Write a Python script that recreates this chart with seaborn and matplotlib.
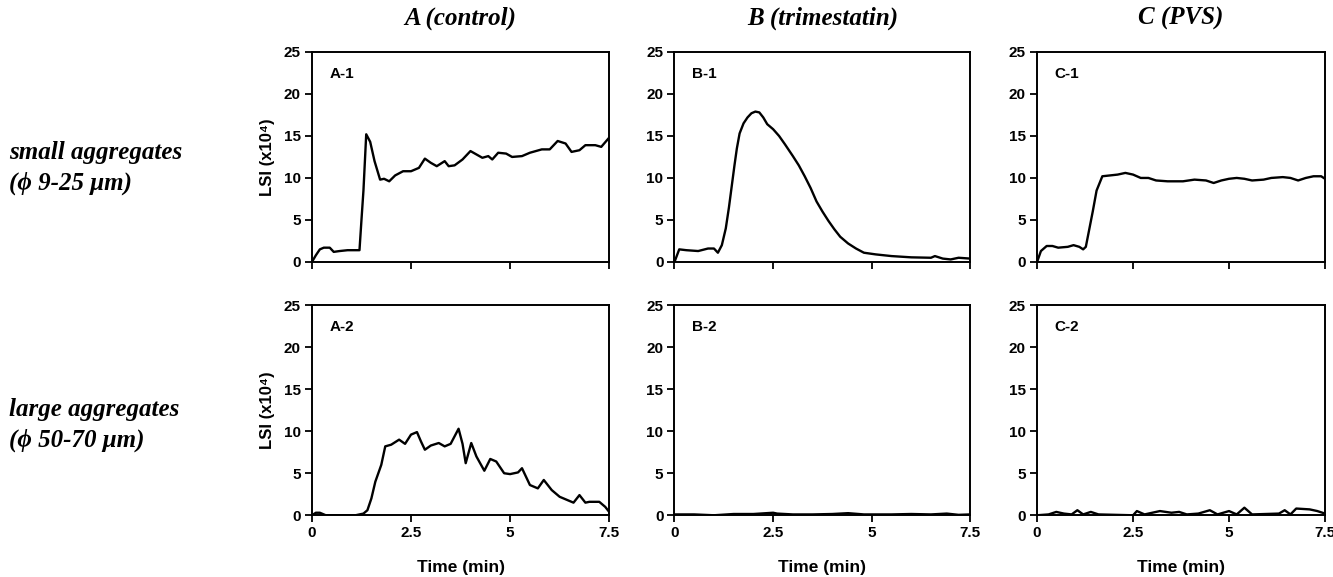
import matplotlib
matplotlib.use("Agg")
import matplotlib.pyplot as plt
import numpy as np
import pandas as pd
import seaborn as sns

# ---- data (time in min, LSI in x10^4) ----
a1_t = [0, 0.1, 0.2, 0.3, 0.45, 0.55, 0.7, 0.9, 1.2, 1.25, 1.3, 1.37, 1.47, 1.58, 1.72, 1.82,
        1.95, 2.1, 2.3, 2.5, 2.7, 2.85, 3.0, 3.15, 3.35, 3.45, 3.6, 3.8, 4.0, 4.15, 4.3, 4.45,
        4.55, 4.7, 4.9, 5.05, 5.3, 5.5, 5.8, 6.0, 6.2, 6.4, 6.55, 6.75, 6.9, 7.15, 7.3, 7.5]
a1_y = [0, 0.8, 1.5, 1.7, 1.7, 1.2, 1.3, 1.4, 1.4, 5.0, 8.5, 15.2, 14.3, 12.0, 9.8, 9.9,
        9.6, 10.3, 10.8, 10.8, 11.2, 12.3, 11.8, 11.4, 12.0, 11.4, 11.5, 12.2, 13.2, 12.8, 12.4, 12.6,
        12.2, 13.0, 12.9, 12.5, 12.6, 13.0, 13.4, 13.4, 14.4, 14.1, 13.1, 13.3, 13.9, 13.9, 13.7, 14.8]

a2_t = [0, 0.1, 0.2, 0.35, 1.1, 1.3, 1.4, 1.5, 1.6, 1.75, 1.85, 2.0, 2.2, 2.35, 2.5, 2.65,
        2.75, 2.85, 3.0, 3.2, 3.35, 3.5, 3.7, 3.8, 3.88, 4.02, 4.15, 4.35, 4.5, 4.65, 4.85, 5.0,
        5.2, 5.3, 5.5, 5.7, 5.85, 6.05, 6.25, 6.45, 6.6, 6.75, 6.9, 7.0, 7.25, 7.4, 7.5]
a2_y = [0, 0.3, 0.3, 0, 0, 0.2, 0.6, 2.0, 4.0, 6.0, 8.2, 8.4, 9.0, 8.5, 9.6, 9.9,
        8.8, 7.8, 8.3, 8.6, 8.2, 8.5, 10.3, 8.5, 6.2, 8.6, 7.0, 5.3, 6.7, 6.4, 5.0, 4.9,
        5.1, 5.6, 3.6, 3.2, 4.2, 3.0, 2.2, 1.8, 1.5, 2.4, 1.5, 1.6, 1.6, 1.0, 0.4]

b1_t = [0, 0.12, 0.3, 0.6, 0.85, 1.0, 1.1, 1.2, 1.3, 1.38, 1.45, 1.52, 1.58, 1.65, 1.75, 1.85,
        1.95, 2.05, 2.15, 2.25, 2.35, 2.5, 2.65, 2.8, 3.0, 3.15, 3.3, 3.45, 3.6, 3.75, 3.9,
        4.05, 4.2, 4.4, 4.6, 4.8, 5.1, 5.5, 6.0, 6.5, 6.6, 6.8, 7.0, 7.2, 7.5]
b1_y = [0, 1.5, 1.4, 1.3, 1.6, 1.6, 1.1, 2.0, 4.0, 6.5, 9.0, 11.5, 13.5, 15.3, 16.5, 17.2,
        17.7, 17.9, 17.8, 17.2, 16.4, 15.8, 15.0, 14.0, 12.6, 11.5, 10.2, 8.8, 7.2, 6.0, 4.9,
        3.9, 3.0, 2.2, 1.6, 1.1, 0.9, 0.7, 0.55, 0.5, 0.7, 0.4, 0.3, 0.5, 0.4]

b2_t = [0, 0.5, 1.0, 1.5, 2.0, 2.5, 2.6, 3.0, 3.5, 4.0, 4.4, 4.8, 5.5, 6.0, 6.5, 6.9, 7.2, 7.5]
b2_y = [0.1, 0.1, 0.0, 0.15, 0.15, 0.3, 0.2, 0.1, 0.1, 0.15, 0.25, 0.1, 0.1, 0.15, 0.1, 0.2, 0.05, 0.1]

c1_t = [0, 0.1, 0.25, 0.4, 0.55, 0.8, 0.95, 1.1, 1.2, 1.27, 1.45, 1.55, 1.7, 1.9, 2.1, 2.3,
        2.5, 2.7, 2.9, 3.1, 3.4, 3.8, 4.1, 4.4, 4.6, 4.8, 5.0, 5.2, 5.4, 5.6, 5.9, 6.1,
        6.4, 6.6, 6.8, 7.0, 7.2, 7.4, 7.5]
c1_y = [0, 1.3, 1.9, 1.9, 1.7, 1.8, 2.0, 1.8, 1.5, 1.8, 6.0, 8.5, 10.2, 10.3, 10.4, 10.6,
        10.4, 10.0, 10.0, 9.7, 9.6, 9.6, 9.8, 9.7, 9.4, 9.7, 9.9, 10.0, 9.9, 9.7, 9.8, 10.0,
        10.1, 10.0, 9.7, 10.0, 10.2, 10.2, 9.9]

c2_t = [0, 0.3, 0.5, 0.7, 0.9, 1.05, 1.2, 1.4, 1.6, 2.5, 2.6, 2.8, 3.2, 3.5, 3.7, 3.9,
        4.2, 4.5, 4.7, 5.0, 5.2, 5.4, 5.6, 6.3, 6.45, 6.6, 6.75, 7.1, 7.3, 7.5]
c2_y = [0, 0.1, 0.4, 0.2, 0.1, 0.6, 0.1, 0.4, 0.1, 0.0, 0.5, 0.1, 0.5, 0.3, 0.4, 0.1,
        0.2, 0.6, 0.1, 0.5, 0.1, 0.9, 0.1, 0.2, 0.6, 0.1, 0.8, 0.7, 0.5, 0.2]

panel_labels = ["A-1", "B-1", "C-1", "A-2", "B-2", "C-2"]
col_titles = ["A (control)", "B (trimestatin)", "C (PVS)"]
row_titles = [("small aggregates", "(\u03d5 9-25 \u03bcm)"),
              ("large aggregates", "(\u03d5 50-70 \u03bcm)")]
x_ticks = [0, 2.5, 5, 7.5]
x_ticklabels = ["0", "2.5", "5", "7.5"]
y_ticks = [0, 5, 10, 15, 20, 25]

series = [(a1_t, a1_y), (b1_t, b1_y), (c1_t, c1_y),
          (a2_t, a2_y), (b2_t, b2_y), (c2_t, c2_y)]

sns.set_theme(style="ticks")
plt.rcParams["font.family"] = ["Liberation Sans", "DejaVu Sans"]
plt.rcParams["axes.linewidth"] = 1.4
for key in ["text.color", "axes.labelcolor", "xtick.color", "ytick.color", "axes.edgecolor"]:
    plt.rcParams[key] = "black"

fig = plt.figure(figsize=(13.33, 5.77), dpi=100)

lefts = [0.234, 0.506, 0.778]
widths = [0.223, 0.222, 0.216]
bottoms = [0.546, 0.107]
height = 0.364

tick_font = dict(fontsize=11, fontweight="bold")

for i, (t, y) in enumerate(series):
    row, col = divmod(i, 3)
    ax = fig.add_axes([lefts[col], bottoms[row], widths[col], height])
    df = pd.DataFrame({"t": t, "y": y})
    sns.lineplot(data=df, x="t", y="y", ax=ax, color="black", linewidth=1.7,
                 estimator=None, sort=False)
    ax.set_xlim(0, 7.5)
    ax.set_ylim(0, 25)
    ax.set_xticks(x_ticks)
    ax.set_yticks(y_ticks)
    ax.set_yticklabels([str(v) for v in y_ticks], **tick_font)
    ax.tick_params(direction="out", length=5, width=1.3, colors="black", pad=3)
    for s in ax.spines.values():
        s.set_visible(True)
        s.set_color("black")
    if row == 1:
        ax.set_xticklabels(x_ticklabels, **tick_font)
        ax.set_xlabel("Time (min)", fontsize=12.5, fontweight="bold", labelpad=14)
    else:
        ax.set_xticklabels([])
        ax.set_xlabel("")
    if col == 0:
        ax.set_ylabel("LSI (x10\u2074)", fontsize=12, fontweight="bold", labelpad=6)
    else:
        ax.set_ylabel("")
    ax.text(0.06, 0.93, panel_labels[i], transform=ax.transAxes, ha="left", va="top",
            fontsize=11, fontweight="bold")
    if row == 0:
        ax.set_title(col_titles[col], fontsize=18, fontweight="bold", style="italic",
                     family="Liberation Serif", pad=20)

for r, (line1, line2) in enumerate(row_titles):
    yc = [0.735, 0.29][r]
    fig.text(0.007, yc, line1, fontsize=18, fontweight="bold", style="italic",
             family="Liberation Serif", va="center", ha="left")
    fig.text(0.007, yc - 0.053, line2, fontsize=18, fontweight="bold", style="italic",
             family="Liberation Serif", va="center", ha="left")

fig.savefig("out.png", dpi=100)
